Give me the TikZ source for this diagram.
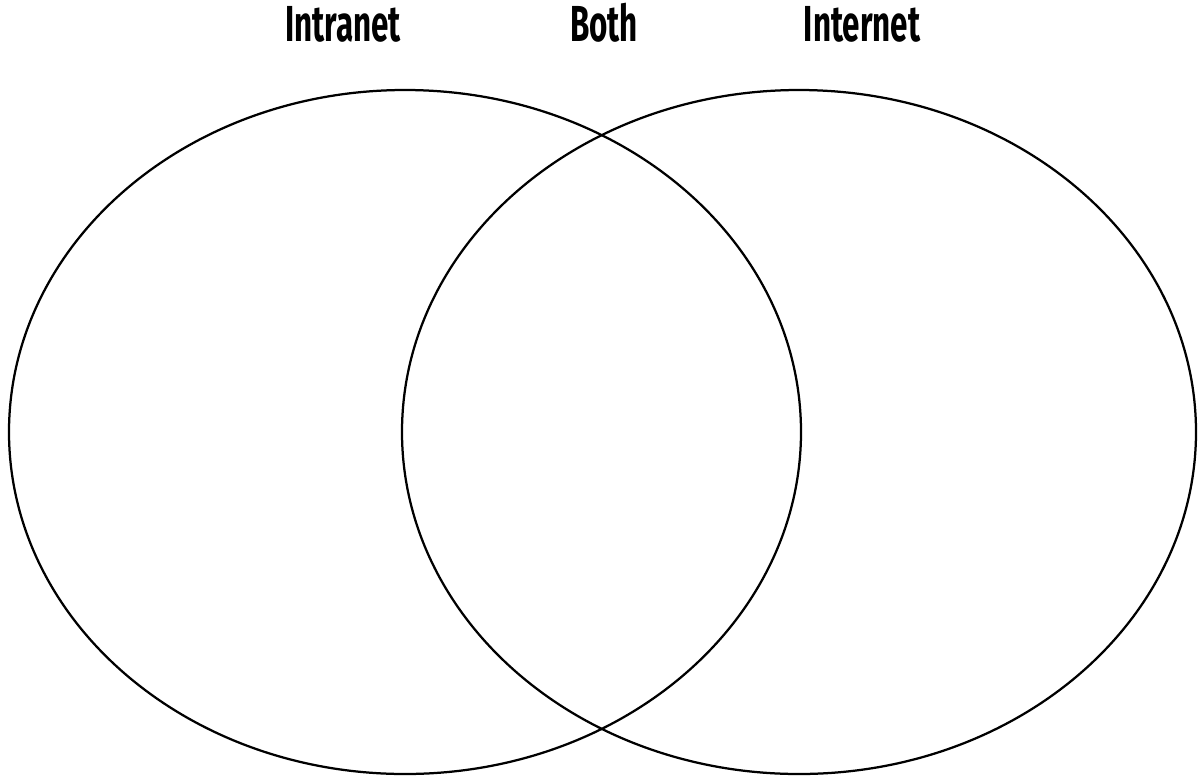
\documentclass[tikz,border=0pt]{standalone}
\usepackage{fontspec}
\newfontfamily\vennfont{Fira Sans}
\newcommand{\venntitle}[1]{\scalebox{0.62}[1]{\vennfont\bfseries #1}}
\begin{document}
\begin{tikzpicture}[x=0.025cm,y=-0.025cm,
    settitle/.style={font=\fontsize{36}{40}\selectfont, inner sep=0pt, anchor=base},
    setline/.style={line width=1.6pt}]
    \useasboundingbox (0,0) rectangle (1199,779);
    % Kreise
    \draw[setline] (405,432) ellipse (396 and 342);
    \draw[setline] (799,432) ellipse (397 and 342);
    % Titel
    \node[settitle] (intranet) at (343,41) {\venntitle{Intranet}};
    \node[settitle] (both) at (604,41) {\venntitle{Both}};
    \node[settitle] (internet) at (862,41) {\venntitle{Internet}};
\end{tikzpicture}
\end{document}
